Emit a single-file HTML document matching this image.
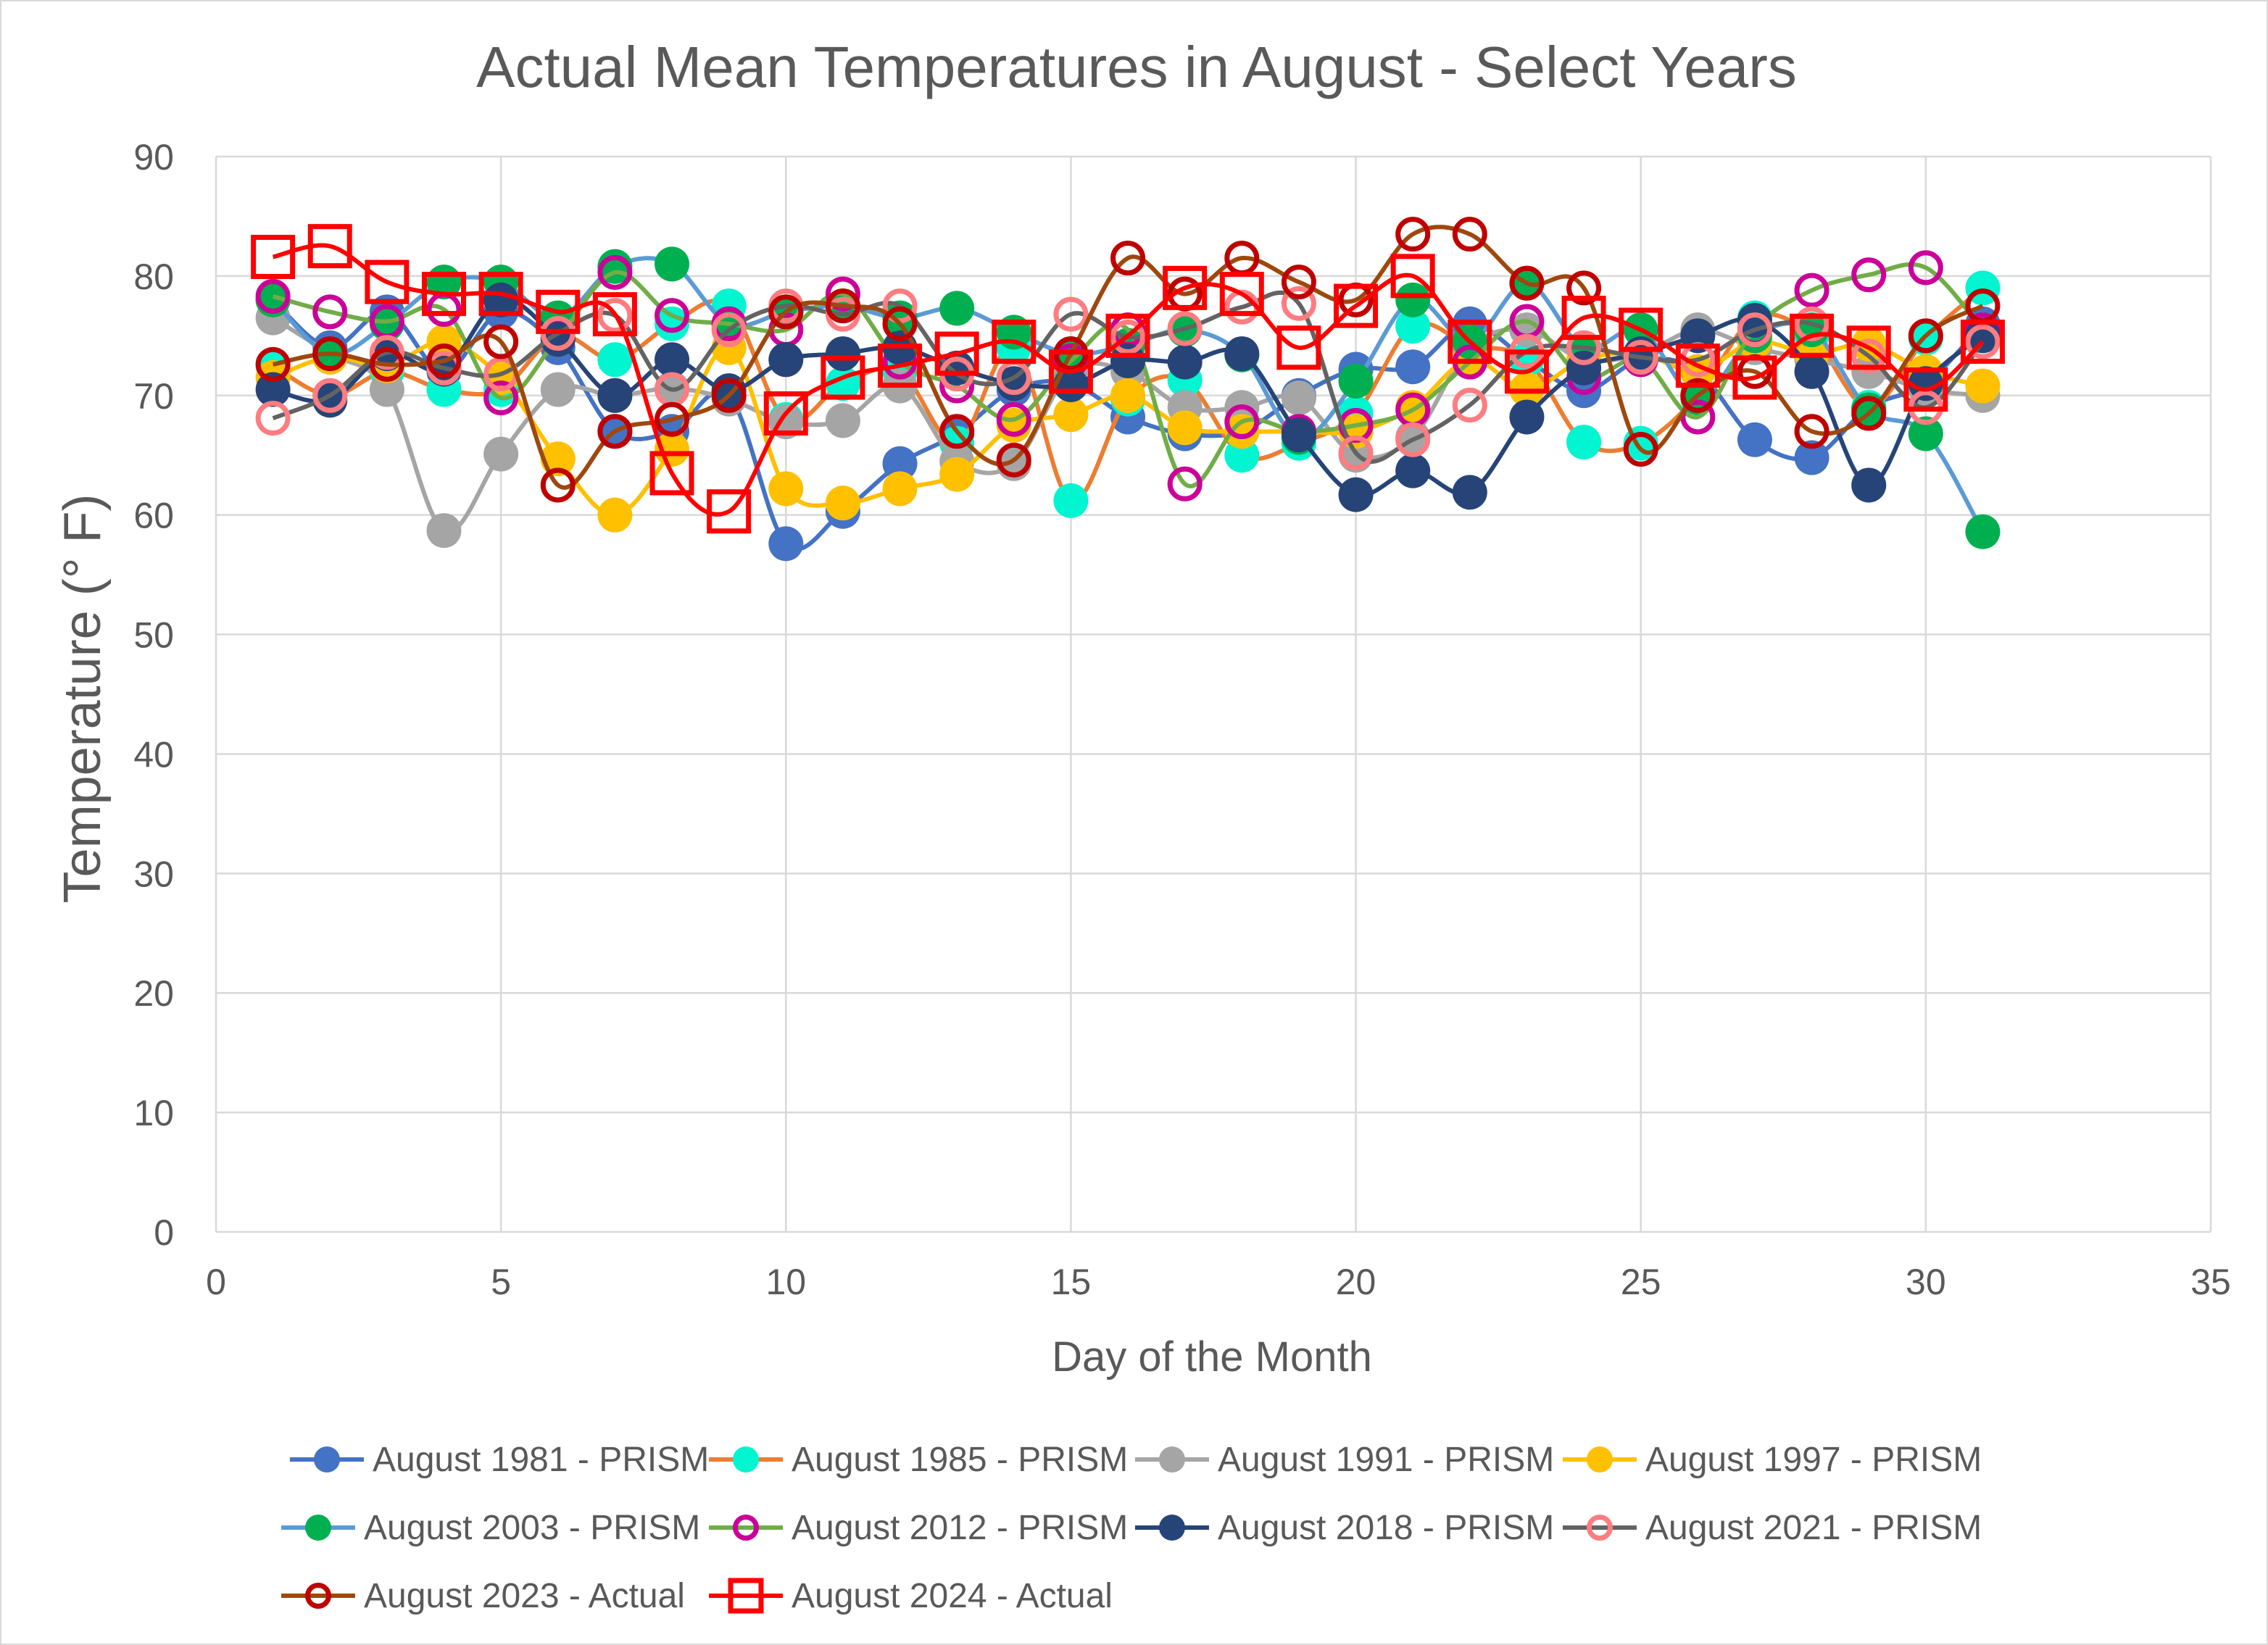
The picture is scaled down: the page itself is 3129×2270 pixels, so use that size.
<!DOCTYPE html>
<html><head><meta charset="utf-8"><style>
html,body{margin:0;padding:0;background:#fff;}
svg{display:block;font-family:"Liberation Sans",sans-serif;}
</style></head><body>
<svg id="chart" width="3129" height="2270" viewBox="0 0 3129 2270" xmlns="http://www.w3.org/2000/svg">
<rect x="1" y="1" width="3127" height="2268" fill="#fff" stroke="#d9d9d9" stroke-width="2"/>
<text x="1568" y="120" text-anchor="middle" font-size="80" fill="#595959">Actual Mean Temperatures in August - Select Years</text>
<g id="grid"></g>
<g id="axes"></g>
<g id="series"></g>
<text x="1672" y="1892" text-anchor="middle" font-size="58" fill="#595959">Day of the Month</text>
<text transform="translate(138,964) rotate(-90)" text-anchor="middle" font-size="72" fill="#595959">Temperature (° F)</text>
<g id="legend"></g>
</svg>
<script>
const days = Array.from({length:31},(_,i)=>i+1);
const xTicks = [0,5,10,15,20,25,30,35];
const yTicks = [0,10,20,30,40,50,60,70,80,90];
const seriesNames = ["August 1981 - PRISM","August 1985 - PRISM","August 1991 - PRISM","August 1997 - PRISM","August 2003 - PRISM","August 2012 - PRISM","August 2018 - PRISM","August 2021 - PRISM","August 2023 - Actual","August 2024 - Actual"];
const v1981 = [78,74,77,72,77,74,67,67,70,57.6,60.3,64.3,66.8,70.5,71,68.2,66.8,67,70,72.2,72.4,76,73,70.4,73,72,66.3,64.8,69,71,76];
const v1985 = [72.5,70,72,70.5,70.5,75,73,76,77.5,68,71,72,66,74,61.2,69.7,71.3,65,66,68.5,75.8,74.2,73,66.1,66,70,76.5,75,69,74.8,79];
const v1991 = [76.5,73.5,70.5,58.7,65.1,70.5,70,70.6,69.7,67.8,67.9,70.8,64.5,64.3,72,72,69,69,69.8,65,66.5,74,75.5,73,73.5,75.5,74,73,72,70.5,70];
const v1997 = [71.5,73.2,72.5,74.5,71.5,64.7,60,65.5,74,62.2,61,62.2,63.4,67.5,68.4,70,67.3,67,67,67,69,73,70.5,73,73.5,72,74.5,73.5,74.3,72,70.8];
const v2003 = [78,73.5,76,79.5,79.5,76.5,80.8,81,76,77,77.5,76.5,77.3,75.3,73.5,74.2,75.5,73.4,66.5,71.2,78,74.5,79.4,74,75.5,69.8,75,75.5,68.8,66.8,58.6];
const v2012 = [78.3,77,76.2,77.2,69.8,74.8,80.3,76.7,76,75.5,78.5,72.8,70.8,68,72.9,75.5,62.6,67.8,67,67.5,68.8,72.8,76.2,71.5,73,68.2,75.6,78.8,80.1,80.7,75.5];
const v2018 = [70.5,69.6,73.5,72.2,78,74.7,70,73,70.4,73,73.5,74,72.3,71,70.9,72.9,72.8,73.5,66.7,61.7,63.7,61.9,68.2,72.3,73.5,75,76.3,72,62.5,71,75];
const v2021 = [68.1,70,73.6,72.3,71.8,75.2,76.7,70.5,75.5,77.5,76.8,77.5,71.8,71.5,76.8,74.9,75.6,77.4,77.7,65.2,66.3,69.2,73.7,74,73.2,73,75.5,76,73.3,69,74.5];
const v2023 = [72.6,73.5,72.6,72.9,74.5,62.5,67,68,70,77,77.5,76,67,64.6,73.5,81.5,78.5,81.5,79.5,78,83.5,83.5,79.4,79,65.5,70,72,67,68.5,75,77.5];
const v2024 = [81.6,82.5,79.5,78.5,78.5,77,76.8,63.5,60.3,68.5,71.5,72.5,73.5,74.5,72,75,79,78.5,74,77.5,80,74.5,72,76.5,75.5,72.5,71.5,75,74,70.5,74.5];
const allValues = [v1981,v1985,v1991,v1997,v2003,v2012,v2018,v2021,v2023,v2024];

const styles = [
 {line:"#4472C4",fill:"#4472C4",stroke:"none",shape:"c"},
 {line:"#ED7D31",fill:"#00F5D0",stroke:"none",shape:"c"},
 {line:"#A5A5A5",fill:"#A5A5A5",stroke:"none",shape:"c"},
 {line:"#FFC000",fill:"#FFC000",stroke:"none",shape:"c"},
 {line:"#5B9BD5",fill:"#00B050",stroke:"none",shape:"c"},
 {line:"#70AD47",fill:"none",stroke:"#CC0099",shape:"c"},
 {line:"#264478",fill:"#264478",stroke:"none",shape:"c"},
 {line:"#636363",fill:"none",stroke:"#FF7C80",shape:"c"},
 {line:"#9E480E",fill:"none",stroke:"#C00000",shape:"c"},
 {line:"#FF0000",fill:"none",stroke:"#FF0000",shape:"s"}
];
const NS="http://www.w3.org/2000/svg";
const X0=298,X1=3050,Y0=1700,Y1=216;
const xs=d=>X0+(X1-X0)*d/35;
const ys=v=>Y0-(Y0-Y1)*v/90;
function mk(tag,attrs,parent){const e=document.createElementNS(NS,tag);for(const k in attrs)e.setAttribute(k,attrs[k]);parent.appendChild(e);return e;}
const grid=document.getElementById('grid'),axes=document.getElementById('axes'),sg=document.getElementById('series'),lg=document.getElementById('legend');
yTicks.forEach(t=>{
 const l=mk('line',{x1:X0,x2:X1,y1:ys(t),y2:ys(t),stroke:"#d9d9d9","stroke-width":2.5},grid);
 
 
 const tx=mk('text',{x:X0-58,y:ys(t)+18,"text-anchor":"end","font-size":50,fill:"#595959"},axes);
 tx.textContent=t;
 
 
});
xTicks.forEach(t=>{
 const l=mk('line',{x1:xs(t),x2:xs(t),y1:Y1,y2:Y0,stroke:"#d9d9d9","stroke-width":2.5},grid);
 
 
 const tx=mk('text',{x:xs(t),y:Y0+86,"text-anchor":"middle","font-size":50,fill:"#595959"},axes);
 tx.textContent=t;
 
 
});
function smooth(pts){
 let d=`M${pts[0][0]},${pts[0][1]}`;
 for(let i=0;i<pts.length-1;i++){
  const p0=pts[i-1]||pts[i],p1=pts[i],p2=pts[i+1],p3=pts[i+2]||p2;
  const c1=[p1[0]+(p2[0]-p0[0])/6,p1[1]+(p2[1]-p0[1])/6];
  const c2=[p2[0]-(p3[0]-p1[0])/6,p2[1]-(p3[1]-p1[1])/6];
  d+=` C${c1[0]},${c1[1]} ${c2[0]},${c2[1]} ${p2[0]},${p2[1]}`;
 }
 return d;
}
function marker(s,x,y,parent,r){
 let m;
 if(s.shape==="s"){
  m=mk('rect',{x:x-r-3,y:y-r-3,width:2*r+6,height:2*r+6,fill:"none",stroke:s.stroke,"stroke-width":7},parent);
 } else if(s.fill==="none"){
  m=mk('circle',{cx:x,cy:y,r:r-3.5,fill:"none",stroke:s.stroke,"stroke-width":7},parent);
 } else {
  m=mk('circle',{cx:x,cy:y,r:r,fill:s.fill},parent);
 }
 return m;
}
allValues.forEach((vals,si)=>{
 const s=styles[si];
 const g=mk('g',{},sg);
 
 
 const pts=vals.map((v,i)=>[xs(days[i]),ys(v)]);
 const p=mk('path',{d:smooth(pts),fill:"none",stroke:s.line,"stroke-width":6},g);
 
 
 pts.forEach(pt=>{
  const m=marker(s,pt[0],pt[1],g,24);
  
  
 });
});
const legendPos=[[514,2030],[1092,2030],[1680,2030],[2270,2030],[502,2124],[1092,2124],[1680,2124],[2270,2124],[502,2218],[1092,2218]];
seriesNames.forEach((n,i)=>{
 const s=styles[i];const [tx,ty]=legendPos[i];
 const g=mk('g',{},lg);
 
 
 mk('line',{x1:tx-114,x2:tx-12,y1:ty-16,y2:ty-16,stroke:s.line,"stroke-width":6},g);
 marker(s,tx-63,ty-16,g,18);
 const t=mk('text',{x:tx,y:ty,"font-size":48,fill:"#595959"},g);
 t.textContent=n;
 
 
});
</script>
</body></html>
